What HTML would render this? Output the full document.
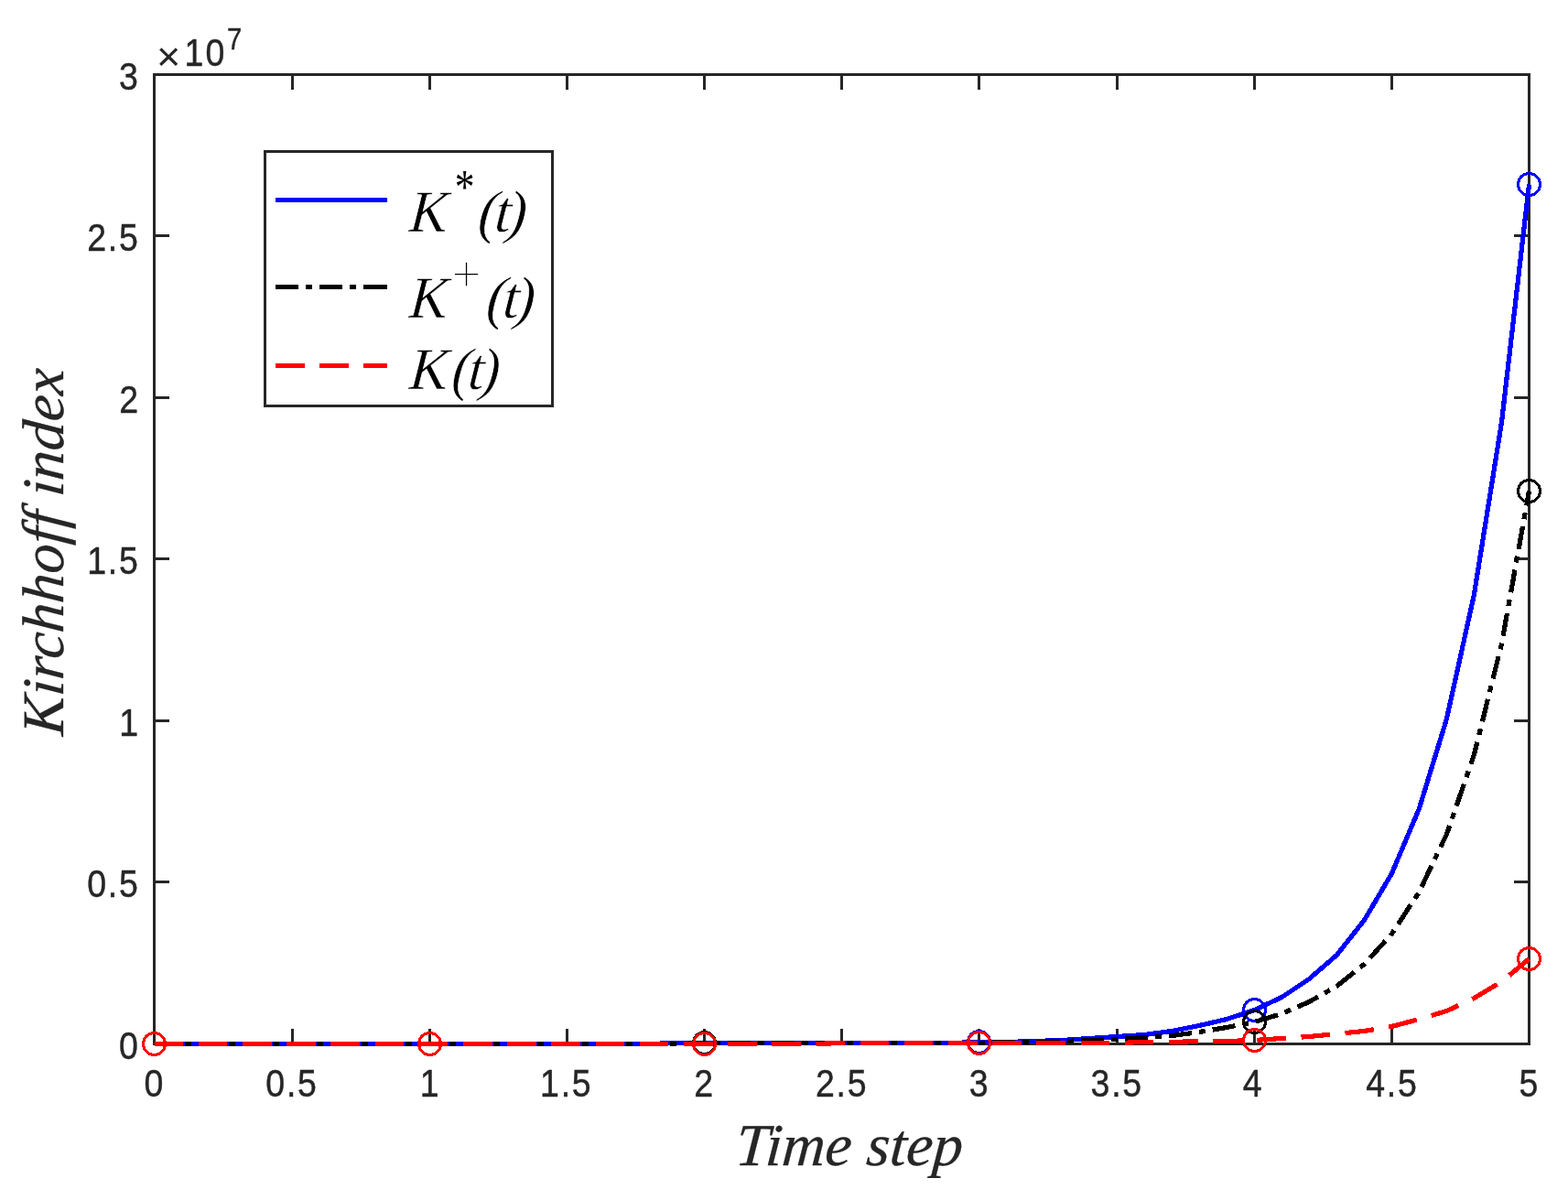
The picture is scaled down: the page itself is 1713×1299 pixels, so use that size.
<!DOCTYPE html>
<html lang="en"><head><meta charset="utf-8"><title>Kirchhoff index vs time step</title>
<style>
html,body{margin:0;padding:0;background:#fff;}
body{width:1713px;height:1299px;overflow:hidden;}
svg{display:block;}
.tk{font-family:"Liberation Sans",Arial,Helvetica,sans-serif;font-size:41.67px;fill:#262626;stroke:#262626;stroke-width:0.45px;}
.ex{font-family:"Liberation Sans",Arial,Helvetica,sans-serif;font-size:32.5px;fill:#262626;stroke:#262626;stroke-width:0.4px;}
.mu{font-family:"Liberation Sans",Arial,Helvetica,sans-serif;font-size:45px;fill:#262626;}
.lb{font-family:"Liberation Serif","Times New Roman",Times,serif;font-style:italic;font-size:64.5px;fill:#262626;stroke:#262626;stroke-width:0.3px;}
.lg{font-family:"Liberation Serif","Times New Roman",Times,serif;font-style:italic;font-size:65px;fill:#000;stroke:#fff;stroke-width:0.6px;}
.as{font-family:"Liberation Serif","Times New Roman",Times,serif;font-style:normal;font-size:53.7px;fill:#000;}
.pl{font-family:"Liberation Serif","Times New Roman",Times,serif;font-style:normal;font-size:57.8px;fill:#000;stroke:#fff;stroke-width:1.6px;}
</style></head><body>
<svg width="1713" height="1299" viewBox="0 0 1713 1299">
<rect x="0" y="0" width="1713" height="1299" fill="#fff"/>
<g stroke="#262626" stroke-width="3" fill="none" shape-rendering="crispEdges">
<rect x="168.5" y="81.5" width="1502" height="1059"/>
<line x1="319.5" y1="1140.5" x2="319.5" y2="1124"/>
<line x1="319.5" y1="81.5" x2="319.5" y2="98"/>
<line x1="469.5" y1="1140.5" x2="469.5" y2="1124"/>
<line x1="469.5" y1="81.5" x2="469.5" y2="98"/>
<line x1="619.5" y1="1140.5" x2="619.5" y2="1124"/>
<line x1="619.5" y1="81.5" x2="619.5" y2="98"/>
<line x1="769.5" y1="1140.5" x2="769.5" y2="1124"/>
<line x1="769.5" y1="81.5" x2="769.5" y2="98"/>
<line x1="919.5" y1="1140.5" x2="919.5" y2="1124"/>
<line x1="919.5" y1="81.5" x2="919.5" y2="98"/>
<line x1="1069.5" y1="1140.5" x2="1069.5" y2="1124"/>
<line x1="1069.5" y1="81.5" x2="1069.5" y2="98"/>
<line x1="1220.5" y1="1140.5" x2="1220.5" y2="1124"/>
<line x1="1220.5" y1="81.5" x2="1220.5" y2="98"/>
<line x1="1370.5" y1="1140.5" x2="1370.5" y2="1124"/>
<line x1="1370.5" y1="81.5" x2="1370.5" y2="98"/>
<line x1="1520.5" y1="1140.5" x2="1520.5" y2="1124"/>
<line x1="1520.5" y1="81.5" x2="1520.5" y2="98"/>
<line x1="168.5" y1="963.5" x2="185" y2="963.5"/>
<line x1="1670.5" y1="963.5" x2="1654" y2="963.5"/>
<line x1="168.5" y1="787.5" x2="185" y2="787.5"/>
<line x1="1670.5" y1="787.5" x2="1654" y2="787.5"/>
<line x1="168.5" y1="610.5" x2="185" y2="610.5"/>
<line x1="1670.5" y1="610.5" x2="1654" y2="610.5"/>
<line x1="168.5" y1="434.5" x2="185" y2="434.5"/>
<line x1="1670.5" y1="434.5" x2="1654" y2="434.5"/>
<line x1="168.5" y1="257.5" x2="185" y2="257.5"/>
<line x1="1670.5" y1="257.5" x2="1654" y2="257.5"/>
</g>
<g>
<text class="tk" transform="translate(0,1198.00) scale(0.9,1)" x="174.97">0</text>
<text class="tk" transform="translate(0,1198.00) scale(0.9,1)" x="322.61 347.72 361.22">0.5</text>
<text class="tk" transform="translate(0,1198.00) scale(0.9,1)" x="509.62">1</text>
<text class="tk" transform="translate(0,1198.00) scale(0.9,1)" x="655.62 680.72 694.23">1.5</text>
<text class="tk" transform="translate(0,1198.00) scale(0.9,1)" x="842.52">2</text>
<text class="tk" transform="translate(0,1198.00) scale(0.9,1)" x="989.93 1015.04 1028.55">2.5</text>
<text class="tk" transform="translate(0,1198.00) scale(0.9,1)" x="1176.42">3</text>
<text class="tk" transform="translate(0,1198.00) scale(0.9,1)" x="1323.96 1349.07 1362.58">3.5</text>
<text class="tk" transform="translate(0,1198.00) scale(0.9,1)" x="1508.66">4</text>
<text class="tk" transform="translate(0,1198.00) scale(0.9,1)" x="1658.06 1683.16 1696.67">4.5</text>
<text class="tk" transform="translate(0,1198.00) scale(0.9,1)" x="1843.90">5</text>
</g>
<g>
<text class="tk" transform="translate(0,1156.70) scale(0.9,1)" x="144.34">0</text>
<text class="tk" transform="translate(0,980.20) scale(0.9,1)" x="105.85 130.96 144.46">0.5</text>
<text class="tk" transform="translate(0,803.70) scale(0.9,1)" x="144.75">1</text>
<text class="tk" transform="translate(0,627.20) scale(0.9,1)" x="105.85 130.96 144.46">1.5</text>
<text class="tk" transform="translate(0,450.70) scale(0.9,1)" x="144.81">2</text>
<text class="tk" transform="translate(0,274.20) scale(0.9,1)" x="105.85 130.96 144.46">2.5</text>
<text class="tk" transform="translate(0,97.70) scale(0.9,1)" x="144.55">3</text>
</g>
<text class="mu" x="170.9" y="76.8">×</text>
<text class="tk" transform="translate(0,71.90) scale(0.9,1)" x="223.81 249.56">10</text>
<text class="ex" transform="translate(0,53.90) scale(0.9,1)" x="275.44">7</text>
<text class="lb" style="font-size:65.2px" transform="translate(802.5,1272.7) skewX(-4.5)">Time step</text>
<text class="lb" transform="translate(69,604.2) rotate(-90) skewX(-4.5)" text-anchor="middle">Kirchhoff index</text>
<g fill="none" stroke="#0000ff" shape-rendering="crispEdges">
<polyline stroke-width="5.2" stroke-linejoin="round" stroke-linecap="butt" points="168.50,1140.50 198.93,1140.50 228.96,1140.50 259.00,1140.50 289.03,1140.50 319.06,1140.50 349.09,1140.50 379.12,1140.50 409.16,1140.50 439.19,1140.50 469.50,1140.50 499.25,1140.50 529.28,1140.50 559.32,1140.50 589.35,1140.50 619.38,1140.50 649.41,1140.50 679.44,1140.50 709.48,1140.50 739.51,1139.50 769.50,1139.50 799.57,1139.50 829.60,1139.50 859.64,1139.50 889.67,1139.50 919.70,1139.50 949.73,1139.50 979.76,1139.50 1009.80,1139.50 1039.83,1139.50 1069.50,1138.50 1099.89,1138.50 1129.92,1137.50 1159.96,1136.50 1189.99,1134.50 1220.02,1132.50 1250.05,1130.50 1280.08,1126.50 1310.12,1120.50 1340.15,1113.50 1370.50,1103.50 1400.21,1089.50 1430.24,1069.50 1460.28,1043.50 1490.31,1005.50 1520.34,954.50 1550.37,883.50 1580.40,785.50 1610.44,649.50 1640.47,461.50 1670.50,201.50"/>
<circle cx="168.50" cy="1140.50" r="12" stroke-width="3"/>
<circle cx="469.50" cy="1140.50" r="12" stroke-width="3"/>
<circle cx="769.50" cy="1139.50" r="12" stroke-width="3"/>
<circle cx="1069.50" cy="1138.50" r="12" stroke-width="3"/>
<circle cx="1370.50" cy="1103.50" r="12" stroke-width="3"/>
<circle cx="1670.50" cy="201.50" r="12" stroke-width="3"/>
</g>
<g fill="none" stroke="#000000" shape-rendering="crispEdges">
<polyline stroke-width="5.2" stroke-linejoin="round" stroke-linecap="butt" stroke-dasharray="25.2 8 7 8" points="168.50,1140.50 198.93,1140.50 228.96,1140.50 259.00,1140.50 289.03,1140.50 319.06,1140.50 349.09,1140.50 379.12,1140.50 409.16,1140.50 439.19,1140.50 469.50,1140.50 499.25,1140.50 529.28,1140.50 559.32,1140.50 589.35,1140.50 619.38,1140.50 649.41,1140.50 679.44,1140.50 709.48,1140.50 739.51,1140.50 769.50,1139.50 799.57,1139.50 829.60,1139.50 859.64,1139.50 889.67,1139.50 919.70,1139.50 949.73,1139.50 979.76,1139.50 1009.80,1139.50 1039.83,1139.50 1069.50,1139.50 1099.89,1138.50 1129.92,1138.50 1159.96,1137.50 1189.99,1136.50 1220.02,1135.50 1250.05,1133.50 1280.08,1131.50 1310.12,1127.50 1340.15,1122.50 1370.50,1116.50 1400.21,1107.50 1430.24,1094.50 1460.28,1077.50 1490.31,1053.50 1520.34,1020.50 1550.37,974.50 1580.40,911.50 1610.44,824.50 1640.47,703.50 1670.50,536.50"/>
<circle cx="168.50" cy="1140.50" r="12" stroke-width="3"/>
<circle cx="469.50" cy="1140.50" r="12" stroke-width="3"/>
<circle cx="769.50" cy="1139.50" r="12" stroke-width="3"/>
<circle cx="1069.50" cy="1139.50" r="12" stroke-width="3"/>
<circle cx="1370.50" cy="1116.50" r="12" stroke-width="3"/>
<circle cx="1670.50" cy="536.50" r="12" stroke-width="3"/>
</g>
<g fill="none" stroke="#ff0000" shape-rendering="crispEdges">
<polyline stroke-width="5.2" stroke-linejoin="round" stroke-linecap="butt" stroke-dasharray="31.6 16.6" points="168.50,1140.50 198.93,1140.50 228.96,1140.50 259.00,1140.50 289.03,1140.50 319.06,1140.50 349.09,1140.50 379.12,1140.50 409.16,1140.50 439.19,1140.50 469.50,1140.50 499.25,1140.50 529.28,1140.50 559.32,1140.50 589.35,1140.50 619.38,1140.50 649.41,1140.50 679.44,1140.50 709.48,1140.50 739.51,1140.50 769.50,1140.50 799.57,1140.50 829.60,1140.50 859.64,1140.50 889.67,1140.50 919.70,1139.50 949.73,1139.50 979.76,1139.50 1009.80,1139.50 1039.83,1139.50 1069.50,1139.50 1099.89,1139.50 1129.92,1139.50 1159.96,1139.50 1189.99,1139.50 1220.02,1139.50 1250.05,1138.50 1280.08,1138.50 1310.12,1137.50 1340.15,1137.50 1370.50,1136.50 1400.21,1134.50 1430.24,1132.50 1460.28,1129.50 1490.31,1126.50 1520.34,1121.50 1550.37,1113.50 1580.40,1104.50 1610.44,1090.50 1640.47,1072.50 1670.50,1047.50"/>
<circle cx="168.50" cy="1140.50" r="12" stroke-width="3"/>
<circle cx="469.50" cy="1140.50" r="12" stroke-width="3"/>
<circle cx="769.50" cy="1140.50" r="12" stroke-width="3"/>
<circle cx="1069.50" cy="1139.50" r="12" stroke-width="3"/>
<circle cx="1370.50" cy="1136.50" r="12" stroke-width="3"/>
<circle cx="1670.50" cy="1047.50" r="12" stroke-width="3"/>
</g>
<rect x="289.5" y="165.5" width="314" height="278" fill="#fff" stroke="#262626" stroke-width="3" shape-rendering="crispEdges"/>
<g fill="none" stroke-width="5.2" shape-rendering="crispEdges">
<line x1="301" y1="218.5" x2="423" y2="218.5" stroke="#0000ff"/>
<line x1="301" y1="313.5" x2="423" y2="313.5" stroke="#000000" stroke-dasharray="25.2 8 7 8"/>
<line x1="301" y1="399.5" x2="423" y2="399.5" stroke="#ff0000" stroke-dasharray="31.6 16.6"/>
</g>
<text class="lg" transform="translate(446.36,253.30) skewX(-4.5) scale(0.96,1)" x="0.00">K</text>
<text class="as" transform="translate(496.7,222.3) scale(0.81,1)">*</text>
<text class="lg" transform="translate(523.80,253.10) skewX(-4.5)" x="-2.59 15.34 28.98">(t)</text>
<text class="lg" transform="translate(446.36,347.20) skewX(-4.5) scale(0.96,1)" x="0.00">K</text>
<text class="pl" x="493.2" y="318.6">+</text>
<text class="lg" transform="translate(532.80,347.00) skewX(-4.5)" x="-2.59 15.34 28.98">(t)</text>
<text class="lg" transform="translate(446.36,424.70) skewX(-4.5) scale(0.97,1)" x="0.00 47.48 65.96 80.02">K(t)</text>
</svg>
</body></html>
